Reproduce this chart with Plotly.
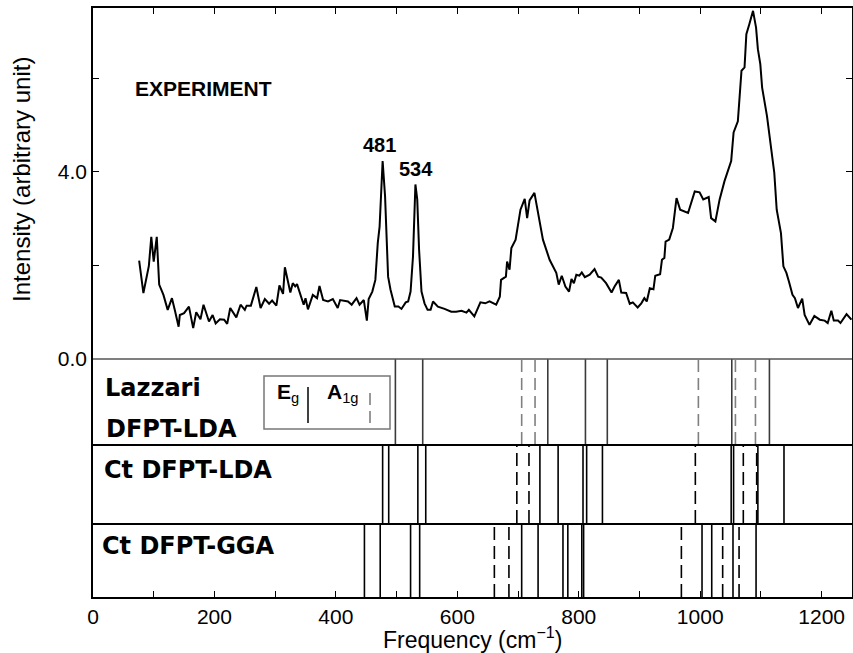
import plotly.graph_objects as go
from plotly.subplots import make_subplots

# ---------------- data ----------------
freq = [76, 83, 92, 96, 100, 105, 109, 116, 123, 130, 135, 141, 143, 150, 158, 165, 170, 177, 182, 191,
        197, 202, 209, 216, 221, 226, 236, 243, 250, 253, 260, 269, 276, 283, 290, 295, 302, 307, 313, 316,
        325, 329, 333, 336, 347, 350, 354, 362, 369, 373, 379, 387, 395, 403, 407, 420, 426, 434, 439, 446,
        451, 454, 460, 465, 469, 472, 477, 481, 486, 490, 497, 503, 508, 515, 519, 523, 527, 531, 534, 537,
        541, 546, 551, 556, 560, 568, 579, 590, 598, 607, 615, 619, 628, 638, 646, 653, 664, 670, 672, 680,
        682, 686, 689, 696, 704, 711, 715, 719, 727, 733, 741, 752, 763, 767, 772, 778, 784, 788, 792, 796,
        801, 805, 810, 818, 826, 832, 837, 845, 854, 859, 866, 870, 878, 884, 889, 897, 903, 908, 912, 917,
        923, 926, 934, 937, 941, 943, 949, 955, 961, 967, 980, 991, 999, 1005, 1014, 1018, 1025, 1032, 1040,
        1051, 1055, 1062, 1068, 1073, 1076, 1081, 1087, 1092, 1095, 1099, 1102, 1110, 1117, 1122, 1126, 1133,
        1137, 1142, 1146, 1152, 1156, 1161, 1168, 1172, 1180, 1188, 1197, 1205, 1210, 1216, 1220, 1227, 1231,
        1241, 1249]
intensity = [2.10, 1.41, 1.99, 2.61, 2.08, 2.61, 1.59, 1.37, 1.05, 1.30, 1.03, 0.69, 0.94, 0.98, 1.12, 0.66,
             1.00, 0.85, 1.16, 0.80, 0.94, 0.76, 0.85, 0.84, 0.75, 1.09, 0.89, 1.16, 1.05, 1.14, 1.14, 1.54,
             1.09, 1.28, 1.18, 1.25, 1.14, 1.57, 1.39, 1.96, 1.42, 1.62, 1.55, 1.60, 1.16, 1.30, 1.06, 1.37,
             1.30, 1.56, 1.26, 1.23, 1.28, 1.09, 1.26, 1.23, 1.16, 1.30, 1.16, 1.26, 0.82, 1.28, 1.44, 1.69,
             2.48, 2.83, 4.23, 3.48, 1.76, 1.48, 1.12, 1.12, 1.07, 1.21, 1.23, 1.44, 2.19, 3.73, 3.41, 2.34,
             1.44, 1.19, 1.05, 1.05, 1.23, 1.12, 1.07, 1.01, 1.01, 1.03, 0.99, 1.05, 0.91, 1.21, 1.19, 1.23,
             1.16, 1.33, 1.69, 1.76, 2.08, 1.91, 2.37, 2.55, 3.19, 3.42, 3.01, 3.39, 3.55, 3.12, 2.55, 2.12,
             1.84, 1.59, 1.78, 1.55, 1.44, 1.71, 1.62, 1.80, 1.78, 1.85, 1.75, 1.80, 1.92, 1.76, 1.74, 1.62,
             1.42, 1.55, 1.69, 1.42, 1.41, 1.18, 1.21, 1.10, 1.19, 1.30, 1.23, 1.51, 1.49, 1.78, 1.81, 2.12,
             2.16, 2.51, 2.55, 2.80, 3.44, 3.19, 3.12, 3.58, 3.56, 3.41, 3.46, 3.01, 2.94, 3.41, 3.80, 4.23,
             4.84, 5.08, 6.16, 6.23, 6.94, 7.16, 7.44, 7.08, 6.62, 6.30, 5.80, 5.19, 4.55, 3.98, 3.19, 2.69,
             1.98, 1.84, 1.66, 1.37, 1.30, 1.09, 1.29, 0.94, 0.73, 0.92, 0.84, 0.82, 0.77, 1.03, 0.82, 0.82,
             0.77, 0.96, 0.84]

peak_labels = ["481", "534"]
peak_label_x = [472, 532]
peak_label_y = [4.58, 4.07]

panel_names = ["Lazzari", "Ct DFPT-LDA", "Ct DFPT-GGA"]
lazzari_eg = [498, 543, 749, 811, 847, 1052, 1114]
lazzari_a1g = [706, 728, 997, 1058, 1091]
lda_eg = [477, 487, 535, 548, 736, 766, 807, 813, 839, 1051, 1055, 1095, 1138]
lda_a1g = [698, 718, 992, 1071, 1093]
gga_eg = [447, 473, 523, 538, 706, 733, 774, 782, 805, 808, 1003, 1019, 1054, 1092]
gga_a1g = [661, 685, 969, 1037, 1064]

x_label_step = 200
x_minor_step = 100
y_label_step = 4
y_minor_step = 2

# ---------------- figure ----------------
W, H = 853, 653
ML, MR, MT, MB = 93, 1, 8, 56
fig = make_subplots(rows=4, cols=1, shared_xaxes=True, vertical_spacing=0,
                    row_heights=[351, 85, 79, 74])

fig.add_trace(go.Scatter(x=freq, y=intensity, mode="lines",
                         line=dict(color="black", width=2), showlegend=False), row=1, col=1)


def vlines(vals):
    xs, ys = [], []
    for v in vals:
        xs += [v, v, None]
        ys += [0, 1, None]
    return xs, ys


sets = [
    (2, lazzari_eg, "#3a3a3a", "solid"),
    (2, lazzari_a1g, "#808080", "12px,6px"),
    (3, lda_eg, "black", "solid"),
    (3, lda_a1g, "black", "13px,6px"),
    (4, gga_eg, "black", "solid"),
    (4, gga_a1g, "black", "13px,6px"),
]
for row, vals, col, dash in sets:
    xs, ys = vlines(vals)
    fig.add_trace(go.Scatter(x=xs, y=ys, mode="lines",
                             line=dict(color=col, width=1.6, dash=dash),
                             showlegend=False, hoverinfo="skip"), row=row, col=1)

tickfont = dict(family="Liberation Sans, Arial, sans-serif", size=21, color="black")
minor_x = dict(ticks="inside", dtick=x_minor_step, tick0=0, ticklen=6, tickwidth=1, tickcolor="black")
common_x = dict(range=[0, 1250], showgrid=False, zeroline=False, showline=True,
                linecolor="black", linewidth=1.5, mirror=False, automargin=False)
fig.update_xaxes(**common_x)
fig.update_xaxes(row=1, col=1, side="top", ticks="inside", ticklen=6, tickwidth=1,
                 tickcolor="black", dtick=x_label_step, tick0=0, minor=minor_x,
                 showticklabels=False)
fig.update_xaxes(row=2, col=1, ticks="", showticklabels=False)
fig.update_xaxes(row=3, col=1, ticks="", showticklabels=False)
fig.update_xaxes(row=4, col=1, ticks="inside", ticklen=6, tickwidth=1, tickcolor="black",
                 dtick=x_label_step, tick0=0, minor=minor_x, showticklabels=True,
                 tickfont=tickfont)

fig.update_yaxes(showgrid=False, zeroline=False, showline=True, linecolor="black",
                 linewidth=1.5, mirror=True, automargin=False)
fig.update_yaxes(row=1, col=1, range=[0, 7.5], dtick=y_label_step, tick0=0, tickformat=".1f",
                 ticks="inside", ticklen=6, tickwidth=1, tickcolor="black",
                 minor=dict(ticks="inside", dtick=y_minor_step, tick0=0, ticklen=6, tickwidth=1,
                            tickcolor="black"),
                 mirror="allticks", tickfont=tickfont)
for r in (2, 3, 4):
    fig.update_yaxes(row=r, col=1, range=[0, 1], showticklabels=False, ticks="")


def px(x):
    return (x - ML) / (W - ML - MR)


def py(y):
    return (H - MB - y) / (H - MT - MB)


ann = []
boldsans = dict(family="Liberation Sans, Arial, sans-serif", size=20, color="black")
ann.append(dict(text="<b>EXPERIMENT</b>", x=px(133), y=py(89), xref="paper", yref="paper",
                xanchor="left", yanchor="middle", showarrow=False,
                font=dict(family="Liberation Sans, Arial, sans-serif", size=21, color="black")))
for t, xv, yv in zip(peak_labels, peak_label_x, peak_label_y):
    ann.append(dict(text="<b>%s</b>" % t, x=xv, y=yv, xref="x", yref="y",
                    xanchor="center", yanchor="middle", showarrow=False, font=boldsans))

dvb = dict(family="DejaVu Sans, sans-serif", size=24, color="black")
ann.append(dict(text="<b>%s</b>" % panel_names[0], x=px(103), y=py(388), xref="paper", yref="paper",
                xanchor="left", yanchor="middle", showarrow=False, font=dvb))
ann.append(dict(text="<b>DFPT-LDA</b>", x=px(104), y=py(429), xref="paper", yref="paper",
                xanchor="left", yanchor="middle", showarrow=False, font=dvb))
ann.append(dict(text="<b>%s</b>" % panel_names[1], x=px(102), y=py(470), xref="paper", yref="paper",
                xanchor="left", yanchor="middle", showarrow=False, font=dvb))
ann.append(dict(text="<b>%s</b>" % panel_names[2], x=px(100), y=py(546), xref="paper", yref="paper",
                xanchor="left", yanchor="middle", showarrow=False, font=dvb))

# legend box contents
legfont = dict(family="Liberation Sans, Arial, sans-serif", size=21, color="black")
ann.append(dict(text="<b>E</b><sub>g</sub>", x=px(288), y=py(393), xref="paper", yref="paper",
                xanchor="center", yanchor="middle", showarrow=False, font=legfont))
ann.append(dict(text="<b>A</b><sub>1g</sub>", x=px(343), y=py(393), xref="paper", yref="paper",
                xanchor="center", yanchor="middle", showarrow=False, font=legfont))

# axis titles
titlefont = dict(family="Liberation Sans, Arial, sans-serif", size=23, color="black")
ann.append(dict(text="Intensity (arbitrary unit)", x=px(21), y=py(180), xref="paper", yref="paper",
                xanchor="center", yanchor="middle", textangle=-90, showarrow=False,
                font=dict(family="Liberation Sans, Arial, sans-serif", size=24, color="black")))
ann.append(dict(text="Frequency (cm<sup>\u22121</sup>)", x=px(472), y=py(638), xref="paper",
                yref="paper", xanchor="center", yanchor="middle", showarrow=False, font=titlefont))

shapes = [
    # border between the experiment panel and the Lazzari panel
    dict(type="line", xref="paper", yref="y domain", x0=0, x1=1, y0=0, y1=0,
         line=dict(color="#555555", width=1.5), layer="above"),
    dict(type="rect", xref="paper", yref="paper", x0=px(264), x1=px(390), y0=py(429), y1=py(376),
         line=dict(color="#777777", width=1.5), fillcolor="rgba(0,0,0,0)"),
    dict(type="line", xref="paper", yref="paper", x0=px(308), x1=px(308), y0=py(423), y1=py(387),
         line=dict(color="black", width=1.5)),
    dict(type="line", xref="paper", yref="paper", x0=px(370), x1=px(370), y0=py(423), y1=py(387),
         line=dict(color="#777777", width=1.5, dash="12px,6px")),
]

fig.update_layout(width=W, height=H, margin=dict(l=ML, r=MR, t=MT, b=MB, autoexpand=False),
                  paper_bgcolor="white", plot_bgcolor="white", showlegend=False,
                  annotations=ann, shapes=shapes)
fig.write_html("out.html", config={"displayModeBar": False},
               post_script="document.body.style.margin='0';document.body.style.overflow='hidden';")
